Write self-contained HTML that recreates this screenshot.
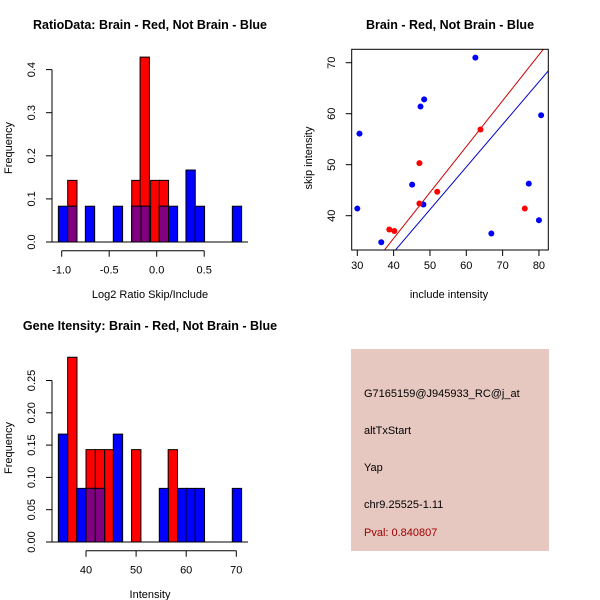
<!DOCTYPE html>
<html><head><meta charset="utf-8"><style>
html,body{margin:0;padding:0;background:#fff}
svg{display:block;font-family:"Liberation Sans",Arial,sans-serif}
</style></head><body>
<svg id="root" width="600" height="600" xmlns="http://www.w3.org/2000/svg">
<text x="150" y="29" text-anchor="middle" font-size="12.5" font-weight="bold">RatioData: Brain - Red, Not Brain - Blue</text>
<text x="450" y="29" text-anchor="middle" font-size="12.5" font-weight="bold">Brain - Red, Not Brain - Blue</text>
<text x="150" y="330" text-anchor="middle" font-size="12.5" font-weight="bold">Gene Itensity: Brain - Red, Not Brain - Blue</text>
<text x="150" y="298" text-anchor="middle" font-size="11">Log2 Ratio Skip/Include</text>
<text x="449" y="298" text-anchor="middle" font-size="11">include intensity</text>
<text x="150" y="598" text-anchor="middle" font-size="11">Intensity</text>
<text transform="translate(12,148) rotate(-90)" text-anchor="middle" font-size="11">Frequency</text>
<text transform="translate(312,158) rotate(-90)" text-anchor="middle" font-size="11">skip intensity</text>
<text transform="translate(12,448) rotate(-90)" text-anchor="middle" font-size="11">Frequency</text>
<g>
<rect x="351" y="349" width="198" height="202" fill="#e6c8c0"/>
<text x="364" y="397" font-size="11">G7165159@J945933_RC@j_at</text>
<text x="364" y="434" font-size="11">altTxStart</text>
<text x="364" y="471" font-size="11">Yap</text>
<text x="364" y="508" font-size="11">chr9.25525-1.11</text>
<text x="364" y="536" font-size="11" fill="#a00000">Pval: 0.840807</text>
</g>
</svg>
<script>
const ratioRedLeft = [-0.937, -0.263, -0.175, -0.064, 0.027];
const ratioRedH = [0.143, 0.143, 0.429, 0.143, 0.143];
const ratioBlueLeft = [-1.035, -0.937, -0.751, -0.457, -0.263, -0.165, 0.027, 0.122, 0.308, 0.406, 0.796];
const ratioBlueH = [0.083, 0.083, 0.083, 0.083, 0.083, 0.083, 0.083, 0.083, 0.167, 0.083, 0.083];
const ratioXTicks = [-1.0, -0.5, 0.0, 0.5];
const ratioXLabels = ["-1.0", "-0.5", "0.0", "0.5"];
const ratioYTicks = [0, 0.1, 0.2, 0.3, 0.4];
const ratioYLabels = ["0.0", "0.1", "0.2", "0.3", "0.4"];
const intRedLeft = [36.34, 40.0, 41.86, 43.73, 49.1, 56.4];
const intRedH = [0.286, 0.143, 0.143, 0.143, 0.143, 0.143];
const intBlueLeft = [34.48, 38.14, 40.0, 41.86, 45.45, 54.63, 58.3, 59.96, 61.8, 69.2];
const intBlueH = [0.167, 0.083, 0.083, 0.083, 0.167, 0.083, 0.083, 0.083, 0.083, 0.083];
const intXTicks = [40, 50, 60, 70];
const intXLabels = ["40", "50", "60", "70"];
const intYTicks = [0, 0.05, 0.10, 0.15, 0.20, 0.25];
const intYLabels = ["0.00", "0.05", "0.10", "0.15", "0.20", "0.25"];
const blueX = [30.0, 30.6, 36.6, 45.1, 47.4, 48.4, 48.2, 62.5, 66.9, 77.2, 80.0, 80.6];
const blueY = [41.4, 56.1, 34.8, 46.1, 61.4, 62.8, 42.2, 71.0, 36.5, 46.3, 39.1, 59.7];
const redX = [38.8, 40.2, 47.1, 47.1, 52.0, 63.9, 76.1];
const redY = [37.3, 37.0, 50.3, 42.4, 44.7, 56.9, 41.4];
const redFit = [-0.45, 0.9];
const blueFit = [-0.55, 0.835];
const scXTicks = [30, 40, 50, 60, 70, 80];
const scYTicks = [40, 50, 60, 70];

const NS = "http://www.w3.org/2000/svg";
const root = document.getElementById('root');
function mk(tag, attrs, parent) {
  const e = document.createElementNS(NS, tag);
  for (const k in attrs) e.setAttribute(k, attrs[k]);
  (parent || root).appendChild(e);
  return e;
}

function histogram(prefix, o) {
  const g = mk('g', {});
  
  
  const sx = v => o.x0px + (v - o.x0) * o.pxPerX;
  const sy = v => o.basePx - v * o.pxPerY;
  const W = o.binW;
  o.redLeft.forEach((l, i) => {
    const r = mk('rect', {x: sx(l), y: sy(o.redH[i]), width: W * o.pxPerX, height: o.redH[i] * o.pxPerY, fill: '#ff0000', stroke: '#000', 'stroke-width': 1}, g);
    
    
  });
  o.blueLeft.forEach((l, i) => {
    const r = mk('rect', {x: sx(l), y: sy(o.blueH[i]), width: W * o.pxPerX, height: o.blueH[i] * o.pxPerY, fill: '#0000ff', stroke: '#000', 'stroke-width': 1}, g);
    
    
  });
  o.blueLeft.forEach((bl, i) => {
    o.redLeft.forEach((rl, j) => {
      const a = Math.max(bl, rl), b = Math.min(bl + W, rl + W);
      if (b - a > W * 0.5) {
        const h = Math.min(o.blueH[i], o.redH[j]);
        const r = mk('rect', {x: sx(a), y: sy(h), width: (b - a) * o.pxPerX, height: h * o.pxPerY, fill: '#800080', stroke: '#000', 'stroke-width': 1}, g);
        
        
      }
    });
  });
  mk('line', {x1: 52, x2: 248, y1: o.basePx, y2: o.basePx, stroke: '#000'}, g);
  const ax = o.basePx + 8.7;
  mk('line', {x1: sx(o.xTicks[0]), x2: sx(o.xTicks[o.xTicks.length - 1]), y1: ax, y2: ax, stroke: '#000'}, g);
  o.xTicks.forEach((t, i) => {
    mk('line', {x1: sx(t), x2: sx(t), y1: ax, y2: ax + 6, stroke: '#000'}, g);
    const tx = mk('text', {x: sx(t), y: ax + 23, 'text-anchor': 'middle', 'font-size': 11}, g);
    tx.textContent = o.xLabels[i];
    
    
  });
  mk('line', {x1: 52, x2: 52, y1: sy(o.yTicks[0]), y2: sy(o.yTicks[o.yTicks.length - 1]), stroke: '#000'}, g);
  o.yTicks.forEach((t, i) => {
    mk('line', {x1: 52, x2: 46, y1: sy(t), y2: sy(t), stroke: '#000'}, g);
    const tx = mk('text', {transform: `translate(35,${sy(t)}) rotate(-90)`, 'text-anchor': 'middle', 'font-size': 11}, g);
    tx.textContent = o.yLabels[i];
    
    
  });
}

histogram('ratio', {x0: -1.0, x0px: 61.7, pxPerX: 95, basePx: 242, pxPerY: 431, binW: 0.098,
  redLeft: ratioRedLeft, redH: ratioRedH, blueLeft: ratioBlueLeft, blueH: ratioBlueH,
  xTicks: ratioXTicks, xLabels: ratioXLabels, yTicks: ratioYTicks, yLabels: ratioYLabels});
histogram('intensity', {x0: 40, x0px: 86, pxPerX: 5.01, basePx: 542, pxPerY: 646, binW: 1.86,
  redLeft: intRedLeft, redH: intRedH, blueLeft: intBlueLeft, blueH: intBlueH,
  xTicks: intXTicks, xLabels: intXLabels, yTicks: intYTicks, yLabels: intYLabels});

(function () {
  const g = mk('g', {});
  
  
  const L = 351.7, R = 548.3, T = 49.3, B = 250;
  const sx = v => 357.3 + (v - 30) * 3.633;
  const sy = v => 215.7 - (v - 40) * 5.1;
  const ix = x => 30 + (x - 357.3) / 3.633;
  mk('clipPath', {id: 'scClip'}, g);
  mk('rect', {x: L, y: T, width: R - L, height: B - T}, g.lastChild);
  [[redFit, '#cc0000', 'red-fit-line'], [blueFit, '#0000cc', 'blue-fit-line']].forEach(f => {
    const x1 = ix(L), x2 = ix(R);
    const ln = mk('line', {x1: L, x2: R, y1: sy(f[0][0] + f[0][1] * x1), y2: sy(f[0][0] + f[0][1] * x2), stroke: f[1], 'clip-path': 'url(#scClip)'}, g);
    
    
  });
  blueX.forEach((x, i) => {
    const c = mk('circle', {cx: sx(x), cy: sy(blueY[i]), r: 3, fill: '#0000ff'}, g);
    
    
  });
  redX.forEach((x, i) => {
    const c = mk('circle', {cx: sx(x), cy: sy(redY[i]), r: 3, fill: '#ff0000'}, g);
    
    
  });
  mk('rect', {x: L, y: T, width: R - L, height: B - T, fill: 'none', stroke: '#000'}, g);
  scXTicks.forEach(t => {
    mk('line', {x1: sx(t), x2: sx(t), y1: B, y2: B + 6, stroke: '#000'}, g);
    const tx = mk('text', {x: sx(t), y: B + 19, 'text-anchor': 'middle', 'font-size': 11}, g);
    tx.textContent = t;
    
    
  });
  scYTicks.forEach(t => {
    mk('line', {x1: L, x2: L - 6, y1: sy(t), y2: sy(t), stroke: '#000'}, g);
    const tx = mk('text', {transform: `translate(335,${sy(t)}) rotate(-90)`, 'text-anchor': 'middle', 'font-size': 11}, g);
    tx.textContent = t;
    
    
  });
})();
</script>
</body></html>
